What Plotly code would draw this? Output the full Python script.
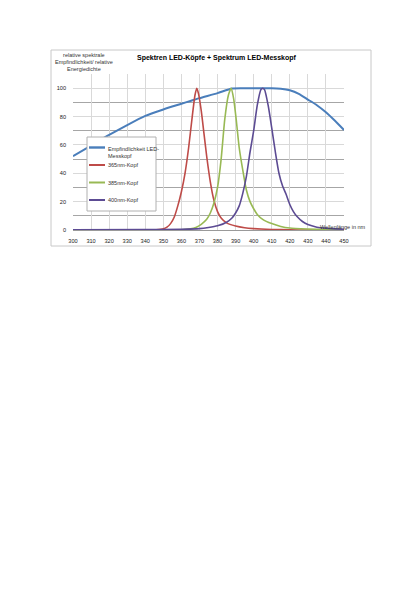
import plotly.graph_objects as go

# wavelength (nm) / relative values
WL_SENS = [300, 310, 320, 330, 340, 350, 360, 365, 370, 380, 388, 395, 400, 405, 410, 415, 420, 425, 430, 435, 440, 445, 450]
SENS = [52, 59.5, 67, 74, 80.5, 85, 89, 91, 93, 96.5, 99.8, 100, 100, 100, 100, 99.6, 98.5, 96, 92, 88, 83, 77, 70.5]

WL_365 = [300, 320, 340, 346, 350, 352, 354, 356, 358, 360, 362, 364, 366, 367.5, 368.5, 369.5, 371, 372.5, 374, 376, 378,
          380, 382, 385, 390, 395, 400, 410, 420, 430, 450]
LED_365 = [0, 0, 0, 0.2, 0.8, 2, 4.5, 9, 17, 27, 40, 58, 80, 95, 100, 96, 84, 68, 52, 34, 21,
           13, 8.5, 5, 2.8, 1.6, 1, 0.4, 0.1, 0, 0]

WL_385 = [300, 340, 360, 365, 368, 371, 374, 376, 378, 380, 382, 384, 386, 387.6, 389, 390.5, 392, 394, 396, 398, 400,
          402, 405, 410, 415, 420, 430, 440, 450]
LED_385 = [0, 0, 0.2, 0.8, 1.8, 4, 7.5, 12, 19, 30, 50, 78, 95, 100, 92, 76, 58, 42, 28, 20, 15,
           11, 7.5, 4.5, 2.5, 1.4, 0.7, 0.3, 0.2]

WL_400 = [300, 340, 360, 370, 375, 380, 385, 388, 390, 392, 394, 396, 398, 400, 402, 404, 405, 406, 408, 410, 412,
          414, 416, 418, 420, 422, 424, 427, 430, 435, 440, 445, 450]
LED_400 = [0.2, 0.3, 0.5, 1, 1.8, 3, 5.5, 8.5, 12, 17, 26, 38, 55, 70, 88, 99, 100, 99, 88, 72, 55,
           40, 31, 25, 18, 13, 9.5, 6, 3.8, 2, 1.2, 0.8, 0.5]

SERIES = [
    ("Empfindlichkeit LED-<br>Messkopf", WL_SENS, SENS, "#4A7EBB", 2),
    ("365nm-Kopf", WL_365, LED_365, "#BE4B48", 1.6),
    ("385nm-Kopf", WL_385, LED_385, "#98B954", 1.6),
    ("400nm-Kopf", WL_400, LED_400, "#5C4B93", 1.6),
]

FONT = "Liberation Sans, Arial, sans-serif"
OFF = 8  # page body margin of the html page
L, T, W, H = 73, 74, 271, 156  # plot area in page px


def px(x, y):
    return (x - L) / W, (T + H - y) / H


fig = go.Figure()
for name, wl, vals, color, width in SERIES:
    fig.add_trace(go.Scatter(
        x=wl, y=vals, mode="lines", name=name,
        line=dict(color=color, width=width, shape="spline", smoothing=0.6),
        showlegend=False,
    ))

shapes = []
annotations = []

# outer chart frame
x0, y0 = px(51, 50)
x1, y1 = px(371, 246)
shapes.append(dict(type="rect", xref="paper", yref="paper", x0=x0, y0=y1, x1=x1, y1=y0,
                   line=dict(color="#c8c8c8", width=1), layer="below"))

# legend box drawn by hand (Excel style, narrow symbols)
bx0, by0 = px(87, 137)
bx1, by1 = px(156, 211)
shapes.append(dict(type="rect", xref="paper", yref="paper", x0=bx0, y0=by1, x1=bx1, y1=by0,
                   line=dict(color="#b0b0b0", width=1), fillcolor="white", layer="above"))
legend_rows = [147.5, 165, 182.5, 200]
for (name, _, _, color, width), ry in zip(SERIES, legend_rows):
    lx0, ly = px(89, ry)
    lx1, _ = px(105, ry)
    shapes.append(dict(type="line", xref="paper", yref="paper", x0=lx0, x1=lx1, y0=ly, y1=ly,
                       line=dict(color=color, width=width + 0.4), layer="above"))
    tx, ty = px(106, ry)
    annotations.append(dict(xref="paper", yref="paper", x=tx, y=ty, text=name, showarrow=False,
                            xanchor="left", yanchor="top" if "<br>" in name else "middle",
                            yshift=4 if "<br>" in name else 0,
                            align="left", font=dict(size=5.5, color="#333333", family=FONT)))

# y axis title
ax, ay = px(84, 62.3)
annotations.append(dict(xref="paper", yref="paper", x=ax, y=ay,
                        text="relative spektrale<br>Empfindlichkeit/ relative<br>Energiedichte",
                        showarrow=False, xanchor="center", yanchor="middle", align="center",
                        font=dict(size=5.5, color="#333333", family=FONT)))
# x axis title
ax, ay = px(368, 227)
annotations.append(dict(xref="paper", yref="paper", x=ax, y=ay, text="Wellenlänge in nm",
                        showarrow=False, xanchor="right", yanchor="middle",
                        font=dict(size=5.5, color="#333333", family=FONT)))
# chart title
ax, ay = px(216.5, 58)
annotations.append(dict(xref="paper", yref="paper", x=ax, y=ay,
                        text="<b>Spektren LED-Köpfe + Spektrum LED-Messkopf</b>",
                        showarrow=False, xanchor="center", yanchor="middle",
                        font=dict(size=7, color="#000000", family=FONT)))

fig.update_xaxes(
    range=[300, 450], tick0=300, dtick=10, showgrid=True, gridcolor="#d9d9d9", gridwidth=1,
    zeroline=False, showline=True, linecolor="#9a9a9a", linewidth=1,
    ticks="", ticklabelstandoff=5, tickfont=dict(size=5.6, color="#222222", family=FONT),
)
fig.update_yaxes(
    range=[0, 110], tickvals=[0, 20, 40, 60, 80, 100], showgrid=True, gridcolor="#d9d9d9", gridwidth=1,
    minor=dict(tickvals=[10, 30, 50, 70, 90], showgrid=True, gridcolor="#a6a6a6", gridwidth=1),
    zeroline=False, showline=False,
    ticks="", ticklabelstandoff=6, tickfont=dict(size=5.6, color="#222222", family=FONT),
)
fig.update_layout(
    width=420, height=594,
    margin=dict(l=L - OFF, r=420 - (L - OFF) - W, t=T - OFF, b=594 - (T - OFF) - H),
    plot_bgcolor="white", paper_bgcolor="white",
    showlegend=False, shapes=shapes, annotations=annotations,
    font=dict(family=FONT),
)
fig.write_html("out.html")
